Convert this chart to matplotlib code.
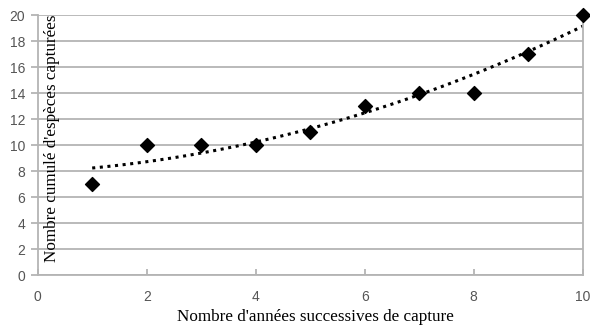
import numpy as np
import matplotlib.pyplot as plt

# Années de capture et nombre cumulé d'espèces
annees = [1, 2, 3, 4, 5, 6, 7, 8, 9, 10]
especes = [7, 10, 10, 10, 11, 13, 14, 14, 17, 20]

# Courbe de tendance polynomiale (ordre 2)
coef = np.polyfit(annees, especes, 2)
xs = np.linspace(1, 10, 100)
ys = np.polyval(coef, xs)

fig = plt.figure(figsize=(5.9, 3.29), dpi=100)
ax = fig.add_axes([0.0639, 0.164, 0.9237, 0.790])

gris = "#b4b4b4"
ax.set_xlim(0, 10)
ax.set_ylim(0, 20)
ax.set_xticks(range(0, 11, 2))
ax.set_yticks(range(0, 21, 2))
ax.yaxis.grid(True, color=gris, lw=1.3)
ax.set_axisbelow(True)
ax.spines["top"].set_visible(False)
for s in ["left", "bottom", "right"]:
    ax.spines[s].set_color(gris)
    ax.spines[s].set_linewidth(1.3)

ax.tick_params(axis="y", direction="out", length=5, color=gris, width=1.3,
               labelsize=10, labelcolor="#555555", pad=4)
ax.tick_params(axis="x", direction="in", length=4, color=gris, width=1.3,
               labelsize=10, labelcolor="#555555", pad=11)
for lab in ax.get_xticklabels() + ax.get_yticklabels():
    lab.set_family("Liberation Sans")

ax.plot(xs, ys, color="black", lw=2.2, ls=(0, (1, 1.5)), zorder=2)
ax.scatter(annees, especes, marker="D", s=50, color="black", zorder=3,
           clip_on=False)

ax.text(0.026, 0.525, "Nombre cumulé d'espèces capturées", transform=ax.transAxes,
        rotation=90, ha="center", va="center", fontsize=12.3,
        family="Liberation Serif")
fig.text(0.534, 0.036, "Nombre d'années successives de capture", ha="center",
         va="center", fontsize=12.3, family="Liberation Serif")

fig.savefig("out.png", dpi=100)
